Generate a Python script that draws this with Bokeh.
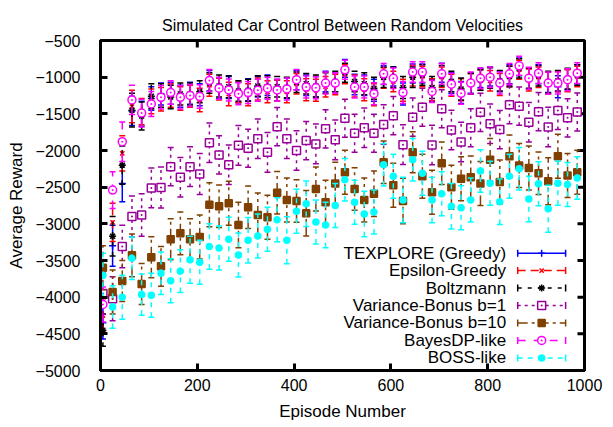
from bokeh.plotting import figure
from bokeh.models import ColumnDataSource, Range1d, FixedTicker
from bokeh.core.properties import value
from bokeh.embed import file_html
from bokeh.resources import INLINE
import math

# ---------------- data ----------------
EPISODES = [5, 25, 45, 65, 85, 105, 125, 145, 165, 185,
            205, 225, 245, 265, 285, 305, 325, 345, 365, 385,
            405, 425, 445, 465, 485, 505, 525, 545, 565, 585,
            605, 625, 645, 665, 685, 705, 725, 745, 765, 785,
            805, 825, 845, 865, 885, 905, 925, 945, 965, 985]

TEXPLORE = [-4350, -3300, -2450, -1460, -1500, -1290, -1230, -1220, -1260, -1220,
            -1240, -1050, -1150, -1140, -1210, -1170, -1130, -1110, -1180, -1150,
            -1040, -1110, -1130, -1060, -1070, -880, -1100, -1110, -1180, -970,
            -990, -1230, -950, -950, -1180, -940, -1080, -1210, -1080, -1010,
            -990, -1060, -960, -860, -1020, -960, -1070, -1130, -1030, -960]
TEXPLORE_ERR = [220, 280, 250, 200, 170, 160, 150, 150, 150, 150,
                150, 140, 140, 150, 140, 150, 140, 140, 140, 140,
                130, 140, 140, 140, 130, 120, 140, 140, 150, 130,
                130, 150, 130, 130, 150, 130, 140, 150, 140, 130,
                130, 140, 130, 120, 140, 130, 140, 150, 140, 130]

EPSILON = [-4250, -2980, -2040, -1400, -1470, -1330, -1300, -1250, -1290, -1260,
           -1310, -1110, -1160, -1230, -1200, -1240, -1160, -1200, -1180, -1200,
           -1090, -1170, -1180, -1130, -1100, -960, -1120, -1170, -1240, -1010,
           -1060, -1180, -980, -990, -1170, -1000, -1110, -1170, -1090, -1040,
           -1050, -1100, -990, -900, -1040, -1000, -1080, -1060, -1050, -990]
EPSILON_ERR = [230, 260, 240, 220, 180, 170, 160, 160, 160, 150,
               160, 150, 150, 160, 150, 150, 150, 150, 140, 150,
               140, 150, 150, 140, 140, 130, 150, 150, 150, 140,
               140, 150, 140, 140, 150, 140, 150, 150, 140, 140,
               140, 150, 140, 130, 150, 140, 150, 140, 150, 140]

BOLTZMANN = [-4450, -3170, -2200, -1450, -1530, -1260, -1250, -1270, -1230, -1230,
             -1200, -1080, -1120, -1130, -1190, -1180, -1120, -1130, -1130, -1140,
             -1070, -1090, -1120, -1080, -1060, -940, -1060, -1090, -1150, -1000,
             -1000, -1140, -1000, -970, -1140, -980, -1060, -1160, -1090, -1040,
             -1010, -1050, -990, -880, -1010, -980, -1070, -1050, -1020, -970]
BOLTZMANN_ERR = [220, 270, 260, 230, 190, 170, 160, 160, 150, 150,
                 150, 140, 150, 150, 140, 150, 140, 150, 140, 140,
                 140, 140, 150, 140, 140, 130, 140, 150, 150, 140,
                 140, 150, 140, 140, 150, 140, 140, 150, 140, 140,
                 140, 140, 140, 130, 140, 140, 150, 140, 140, 140]

VB1 = [-3950, -4020, -3310, -2900, -2880, -2510, -2505, -2220, -2365, -2220,
       -2320, -1895, -2060, -2195, -1930, -1970, -1840, -2025, -1675, -1840,
       -2000, -1865, -1910, -1705, -1855, -1560, -1765, -1690, -1765, -1645,
       -1525, -1920, -1545, -1410, -1925, -1430, -1720, -1885, -1690, -1480,
       -1635, -1715, -1375, -1395, -1615, -1470, -1680, -1455, -1555, -1475]
VB1_ERR = [280, 300, 290, 280, 290, 270, 280, 260, 270, 270,
           280, 270, 260, 270, 270, 260, 270, 270, 260, 270,
           270, 260, 270, 260, 270, 260, 260, 270, 260, 270,
           260, 270, 260, 260, 270, 260, 270, 270, 260, 260,
           270, 260, 260, 260, 270, 260, 270, 260, 260, 260]

VB10 = [-3600, -3930, -3780, -3430, -3820, -3455, -3580, -3210, -3130, -3210,
        -3180, -2740, -2760, -2720, -3015, -2775, -2880, -2910, -2575, -2675,
        -2690, -2855, -2525, -2705, -2450, -2295, -2525, -2675, -2590, -2160,
        -2475, -2690, -2025, -2350, -2570, -2175, -2500, -2385, -2365, -2450,
        -2125, -2430, -2080, -2205, -2240, -2310, -2420, -2080, -2340, -2295]
VB10_ERR = [300, 300, 280, 290, 280, 280, 270, 280, 290, 280,
            300, 300, 290, 300, 310, 290, 300, 300, 290, 300,
            290, 310, 300, 300, 290, 300, 290, 300, 310, 290,
            300, 310, 280, 300, 300, 290, 300, 300, 290, 300,
            290, 300, 290, 300, 300, 290, 320, 300, 300, 300]

BAYESDP = [-4100, -2540, -1880, -1310, -1490, -1365, -1275, -1210, -1275, -1250,
           -1265, -1045, -1150, -1175, -1225, -1210, -1180, -1150, -1175, -1160,
           -1035, -1135, -1145, -1080, -1080, -900, -1135, -1135, -1225, -955,
           -1015, -1210, -930, -930, -1195, -955, -1095, -1220, -1080, -1015,
           -1000, -1080, -955, -845, -1015, -945, -1080, -1080, -1035, -945]
BAYESDP_ERR = [240, 250, 270, 200, 190, 170, 160, 160, 160, 150,
               160, 150, 150, 150, 150, 150, 150, 150, 150, 150,
               140, 150, 150, 150, 140, 130, 150, 150, 150, 140,
               140, 150, 140, 140, 150, 140, 150, 150, 150, 140,
               140, 150, 140, 130, 150, 140, 150, 150, 150, 140]

BOSS = [-3700, -4135, -4000, -3470, -3965, -3975, -3675, -3775, -3645, -3490,
        -3525, -3310, -3330, -3210, -3425, -3225, -3165, -3075, -2945, -3225,
        -2830, -2725, -2975, -3015, -2750, -2400, -2705, -2865, -2840, -2195,
        -2350, -2675, -2125, -2310, -2675, -2590, -2760, -2780, -2675, -2280,
        -2445, -2700, -2350, -2250, -2660, -2455, -2795, -2445, -2465, -2375]
BOSS_ERR = [300, 290, 300, 290, 280, 300, 290, 300, 290, 320,
            300, 310, 300, 300, 300, 310, 300, 300, 300, 320,
            300, 310, 300, 310, 300, 290, 300, 310, 300, 290,
            300, 310, 290, 300, 310, 300, 310, 300, 300, 290,
            300, 310, 300, 290, 310, 300, 320, 300, 300, 290]

X_TICKS = [0, 200, 400, 600, 800, 1000]
Y_TICKS = [-5000, -4500, -4000, -3500, -3000, -2500, -2000, -1500, -1000, -500]

LABELS = ["TEXPLORE (Greedy)", "Epsilon-Greedy", "Boltzmann",
          "Variance-Bonus b=1", "Variance-Bonus b=10", "BayesDP-like", "BOSS-like"]
TITLE = "Simulated Car Control Between Random Velocities"

# ---------------- styles ----------------
FONT = "Liberation Sans"
series = [
    (TEXPLORE, TEXPLORE_ERR, "#0000FF", "solid", "cross", 7, None),
    (EPSILON, EPSILON_ERR, "#FF0000", "8 5", "x", 6, None),
    (BOLTZMANN, BOLTZMANN_ERR, "#000000", "4 6", "asterisk", 7, None),
    (VB1, VB1_ERR, "#990099", "3 4", "square_dot", 8, "white"),
    (VB10, VB10_ERR, "#804000", "10 4 3 4", "square", 7, "#804000"),
    (BAYESDP, BAYESDP_ERR, "#FF00FF", "8 8", "circle_dot", 8, "white"),
    (BOSS, BOSS_ERR, "#00FFFF", "5 5", "circle", 6, "#00FFFF"),
]

X0, X1 = 0, 1000
Y0, Y1 = -5000, -500
FRAME_W, FRAME_H = 484, 330
TICK_PX = 7

p = figure(width=613, height=427, output_backend="svg", toolbar_location=None,
           x_range=Range1d(X0, X1), y_range=Range1d(Y0, Y1),
           min_border_left=100, min_border_right=29, min_border_top=40, min_border_bottom=57)
p.background_fill_color = "white"
p.border_fill_color = "white"
p.outline_line_color = "black"
p.outline_line_width = 3
p.xgrid.visible = False
p.ygrid.visible = False

p.title.text = TITLE
p.title.align = "center"
p.title.vertical_align = "top"
p.title.text_font = FONT
p.title.text_font_size = "16px"
p.title.text_font_style = "normal"
p.title.text_color = "black"
p.title.standoff = 10

xax = p.xaxis[0]
yax = p.yaxis[0]
xax.ticker = FixedTicker(ticks=X_TICKS)
yax.ticker = FixedTicker(ticks=Y_TICKS)
xax.axis_label = "Episode Number"
yax.axis_label = "Average Reward"
xax.major_label_standoff = 8
xax.axis_label_standoff = 8
yax.major_label_standoff = 20
yax.axis_label_standoff = 7

for ax in [xax, yax]:
    ax.axis_line_width = 3
    ax.axis_line_color = "black"
    ax.major_tick_in = TICK_PX
    ax.major_tick_out = 0
    ax.major_tick_line_width = 3
    ax.minor_tick_line_color = None
    ax.major_label_text_font = FONT
    ax.major_label_text_font_size = "16px"
    ax.major_label_text_color = "black"
    ax.axis_label_text_font = FONT
    ax.axis_label_text_font_size = "17px"
    ax.axis_label_text_font_style = "normal"
    ax.axis_label_text_color = "black"

# mirrored inward ticks on the top and right edges
dy_tick = TICK_PX * (Y1 - Y0) / FRAME_H
dx_tick = TICK_PX * (X1 - X0) / FRAME_W
p.segment(x0=X_TICKS, y0=[Y1] * len(X_TICKS), x1=X_TICKS, y1=[Y1 - dy_tick] * len(X_TICKS),
          line_color="black", line_width=3)
p.segment(x0=[X1] * len(Y_TICKS), y0=Y_TICKS, x1=[X1 - dx_tick] * len(Y_TICKS), y1=Y_TICKS,
          line_color="black", line_width=3)

# ---------------- data glyphs ----------------
for vals, errs, color, dash, marker, msize, fill in series:
    lo = [v - e for v, e in zip(vals, errs)]
    hi = [v + e for v, e in zip(vals, errs)]
    src = ColumnDataSource(dict(x=EPISODES, y=vals, lo=lo, hi=hi))
    p.segment(x0="x", y0="lo", x1="x", y1="hi", source=src,
              line_color=color, line_width=1.5, line_dash=dash)
    p.scatter(x="x", y="lo", source=src, marker="dash", size=6,
              line_color=color, line_width=1.5)
    p.scatter(x="x", y="hi", source=src, marker="dash", size=6,
              line_color=color, line_width=1.5)
    if fill is None:
        p.scatter(x="x", y="y", source=src, marker=marker, size=msize,
                  line_color=color, line_width=1.5)
    else:
        p.scatter(x="x", y="y", source=src, marker=marker, size=msize,
                  line_color=color, fill_color=fill, line_width=1.5)

# ---------------- legend (gnuplot style: text right-aligned, sample on right) ----------------
LEG_TEXT_X = 838
LEG_X1 = 862
LEG_X2 = 961
LEG_Y0 = -3400
LEG_DY = 238

for i, (lab, (vals, errs, color, dash, marker, msize, fill)) in enumerate(zip(LABELS, series)):
    ly = LEG_Y0 - i * LEG_DY
    p.text(x=[LEG_TEXT_X], y=[ly], text=[lab], text_align="right", text_baseline="middle",
           text_font=value(FONT), text_font_size="17px", text_color="black")
    p.segment(x0=[LEG_X1], y0=[ly], x1=[LEG_X2], y1=[ly], line_color=color,
              line_width=1.5, line_dash=dash)
    p.scatter(x=[LEG_X1, LEG_X2], y=[ly, ly], marker="dash", size=7, angle=math.pi / 2,
              line_color=color, line_width=1.5)
    mx = (LEG_X1 + LEG_X2) / 2
    if fill is None:
        p.scatter(x=[mx], y=[ly], marker=marker, size=msize, line_color=color, line_width=1.5)
    else:
        p.scatter(x=[mx], y=[ly], marker=marker, size=msize, line_color=color,
                  fill_color=fill, line_width=1.5)

open("out.html", "w").write(file_html(p, INLINE))
